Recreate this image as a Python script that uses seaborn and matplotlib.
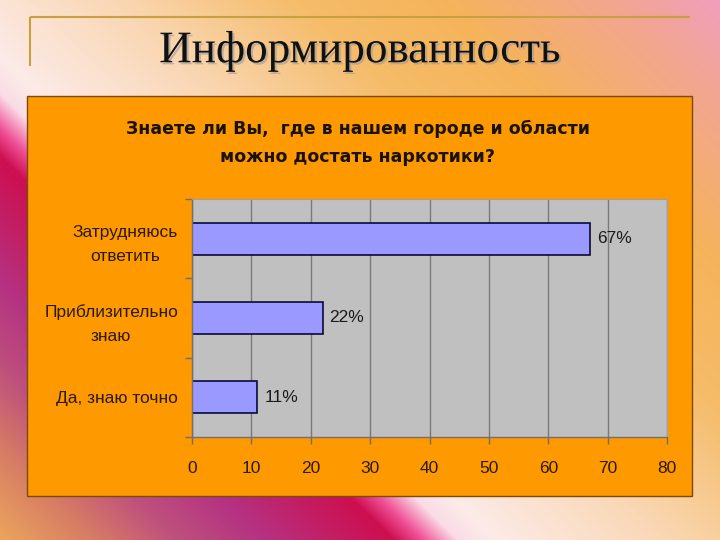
import numpy as np
import pandas as pd
import matplotlib
matplotlib.use("Agg")
import matplotlib.pyplot as plt
import matplotlib.patheffects as pe
from matplotlib.patches import Rectangle
import seaborn as sns

# ---- data ----
categories = ["Затрудняюсь\nответить", "Приблизительно\nзнаю", "Да, знаю точно"]
values = [67, 22, 11]
value_labels = ["67%", "22%", "11%"]
x_ticks = [0, 10, 20, 30, 40, 50, 60, 70, 80]
slide_title = "Информированность"
chart_title = "Знаете ли Вы,  где в нашем городе и области\nможно достать наркотики?"

sns.set_theme(style="white")
plt.rcParams['font.family'] = ['Liberation Sans', 'DejaVu Sans']

W, H = 720, 540
fig = plt.figure(figsize=(7.2, 5.4), dpi=100)

# ---- background gradient (slide decoration) ----
bg = fig.add_axes([0, 0, 1, 1], zorder=-10)
yy, xx = np.mgrid[0:H, 0:W].astype(float)
u = (0.974 * xx - (yy - 170.0)) / 1.396
stops = [
    (-280, (240, 175, 90)),
    (-200, (215, 125, 100)),
    (-140, (190, 80, 125)),
    (-80, (180, 50, 130)),
    (-30, (195, 30, 100)),
    (10, (205, 15, 80)),
    (30, (240, 80, 150)),
    (55, (250, 220, 230)),
    (80, (252, 235, 232)),
    (200, (250, 215, 180)),
    (330, (245, 188, 105)),
    (430, (245, 180, 90)),
    (560, (242, 165, 150)),
    (650, (240, 155, 205)),
]
su = np.array([s[0] for s in stops], float)
sc = np.array([s[1] for s in stops], float) / 255.0
img = np.stack([np.interp(u, su, sc[:, k]) for k in range(3)], axis=-1)
bg.imshow(img, extent=(0, W, H, 0), aspect='auto', interpolation='bilinear')
bg.set_xlim(0, W)
bg.set_ylim(H, 0)
bg.axis('off')

# slide frame lines
bg.plot([30, 690], [17, 17], color='#c8a040', lw=1.5, solid_capstyle='butt')
bg.plot([30, 30], [17, 66], color='#c8a040', lw=1.5, solid_capstyle='butt')

# slide title
bg.text(360, 51, slide_title, ha='center', va='center', fontsize=32.5,
        family=['Liberation Serif'], color='#111111',
        path_effects=[pe.withSimplePatchShadow(offset=(1.5, -1.5), shadow_rgbFace='#999999', alpha=0.6)])

# orange chart area
bg.add_patch(Rectangle((27, 96), 665, 400, facecolor='#ff9900',
                       edgecolor='#7a4a10', lw=1.0))

# chart title
bg.text(358, 143, chart_title, ha='center', va='center', fontsize=12.5,
        fontweight='bold', family=['DejaVu Sans'], color='#1a1200',
        linespacing=1.7)

# ---- bar chart ----
ax = fig.add_axes([192 / W, 1 - 437 / H, 475 / W, 238 / H])
df = pd.DataFrame({"category": categories, "value": values})
sns.barplot(data=df, y="category", x="value", orient='h', order=categories,
            color='#9999ff', edgecolor='#0a0a3a', linewidth=1.2,
            width=0.40, saturation=1, ax=ax)
ax.set_facecolor('#c0c0c0')
ax.set_xlim(0, 80)
ax.set_ylim(2.5, -0.5)
ax.set_xticks(x_ticks)
ax.set_xticklabels([str(t) for t in x_ticks])
ax.xaxis.grid(True, color='#7a7a7a', lw=1.0)
ax.set_axisbelow(True)
ax.set_xlabel("")
ax.set_ylabel("")

# category axis: boundary ticks
ax.set_yticks([0, 1, 2])
ax.set_yticklabels(categories, multialignment='center', linespacing=1.75)
ax.set_yticks([-0.5, 0.5, 1.5, 2.5], minor=True)
ax.tick_params(axis='y', which='major', length=0, pad=10, labelsize=12.5,
               labelcolor='#2a1a05')
ax.tick_params(axis='y', which='minor', length=5, width=1, color='#707070',
               direction='out', left=True)
ax.tick_params(axis='x', which='major', length=5, width=1, color='#707070',
               direction='out', bottom=True, pad=12, labelsize=12.5,
               labelcolor='#2a1a05')

for s in ['left', 'bottom']:
    ax.spines[s].set_color('#707070')
    ax.spines[s].set_linewidth(1.0)
for s in ['top', 'right']:
    ax.spines[s].set_color('#a0a0a0')
    ax.spines[s].set_linewidth(0.8)

for cont in ax.containers:
    ax.bar_label(cont, labels=value_labels, padding=5, fontsize=12.5,
                 color='#1a1a1a')

fig.savefig('out.png', dpi=100)
